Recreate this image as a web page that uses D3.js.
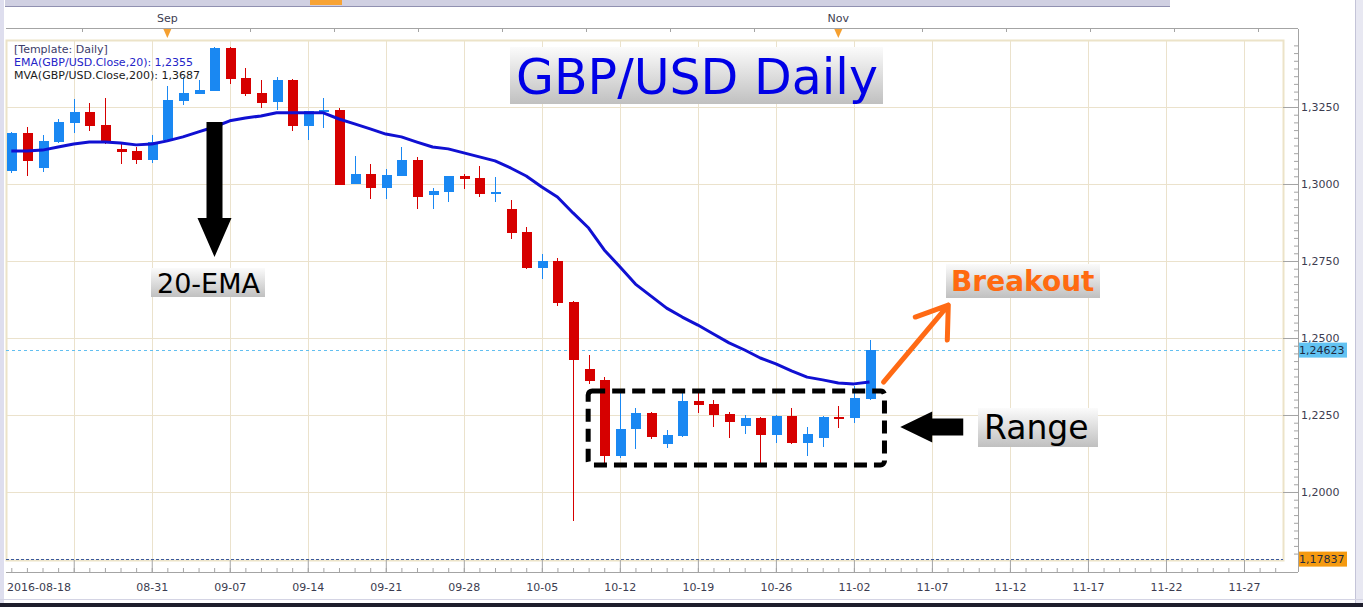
<!DOCTYPE html>
<html>
<head>
<meta charset="utf-8">
<script src="https://cdn.jsdelivr.net/npm/d3@7"></script>
<style>
  body { margin:0; background:#fff; }
  svg { display:block; font-family:'DejaVu Sans', Verdana, sans-serif; }
  .axis text { font-size:11px; fill:#3c3c50; font-family:'DejaVu Sans', Verdana, sans-serif; }
</style>
</head>
<body>
<svg id="chart" width="1363" height="607"></svg>
<script>
/*jshint esversion: 6 */

// daily candles GBP/USD
const dates = [
  '2016-08-18','2016-08-19','2016-08-22','2016-08-23','2016-08-24','2016-08-25','2016-08-26','2016-08-29','2016-08-30','2016-08-31',
  '2016-09-01','2016-09-02','2016-09-05','2016-09-06','2016-09-07','2016-09-08','2016-09-09','2016-09-12','2016-09-13','2016-09-14',
  '2016-09-15','2016-09-16','2016-09-19','2016-09-20','2016-09-21','2016-09-22','2016-09-23','2016-09-26','2016-09-27','2016-09-28',
  '2016-09-29','2016-09-30','2016-10-03','2016-10-04','2016-10-05','2016-10-06','2016-10-07','2016-10-10','2016-10-11','2016-10-12',
  '2016-10-13','2016-10-14','2016-10-17','2016-10-18','2016-10-19','2016-10-20','2016-10-21','2016-10-24','2016-10-25','2016-10-26',
  '2016-10-27','2016-10-28','2016-10-31','2016-11-01','2016-11-02','2016-11-03'
];
const open = [
  1.3042,1.3166,1.3052,1.3136,1.3198,1.3234,1.3192,1.3114,1.3107,1.3078,
  1.3143,1.3269,1.3292,1.3302,1.3442,1.3344,1.3295,1.3266,1.3338,1.3188,
  1.3234,1.3240,1.3000,1.3032,1.2987,1.3026,1.3078,1.2964,1.2974,1.3026,
  1.3019,1.2971,1.2919,1.2844,1.2727,1.2750,1.2617,1.2399,1.2364,1.2117,
  1.2205,1.2256,1.2156,1.2182,1.2295,1.2286,1.2253,1.2214,1.2240,1.2185,
  1.2247,1.2159,1.2175,1.2243,1.2240,1.2302
];
const high = [
  1.3169,1.3185,1.3159,1.3211,1.3276,1.3263,1.3279,1.3136,1.3120,1.3159,
  1.3318,1.3347,1.3338,1.3445,1.3445,1.3377,1.3338,1.3347,1.3341,1.3237,
  1.3279,1.3247,1.3091,1.3065,1.3049,1.3120,1.3088,1.2987,1.3026,1.3032,
  1.3058,1.3023,1.2948,1.2860,1.2773,1.2760,1.2620,1.2445,1.2373,1.2325,
  1.2273,1.2260,1.2201,1.2325,1.2331,1.2299,1.2260,1.2250,1.2243,1.2250,
  1.2273,1.2211,1.2247,1.2279,1.2344,1.2494
];
const low = [
  1.3036,1.3026,1.3039,1.3133,1.3166,1.3172,1.3130,1.3065,1.3065,1.3068,
  1.3140,1.3256,1.3292,1.3302,1.3325,1.3286,1.3247,1.3240,1.3172,1.3143,
  1.3182,1.2997,1.3000,1.2951,1.2951,1.3026,1.2919,1.2919,1.2942,1.2984,
  1.2958,1.2942,1.2821,1.2724,1.2692,1.2604,1.1906,1.2351,1.2094,1.2110,
  1.2140,1.2172,1.2143,1.2179,1.2256,1.2211,1.2175,1.2188,1.2081,1.2159,
  1.2156,1.2117,1.2146,1.2208,1.2224,1.2299
];
const close = [
  1.3166,1.3075,1.3140,1.3201,1.3234,1.3188,1.3140,1.3104,1.3078,1.3136,
  1.3273,1.3295,1.3305,1.3442,1.3341,1.3292,1.3263,1.3338,1.3188,1.3237,
  1.3240,1.2997,1.3032,1.2987,1.3029,1.3078,1.2958,1.2977,1.3026,1.3016,
  1.2968,1.2974,1.2841,1.2727,1.2750,1.2614,1.2429,1.2360,1.2117,1.2205,
  1.2256,1.2179,1.2185,1.2295,1.2282,1.2250,1.2227,1.2240,1.2185,1.2247,
  1.2159,1.2188,1.2243,1.2240,1.2305,1.24623
];
const ema20 = [
  1.3107,1.3107,1.3110,1.3120,1.3130,1.3136,1.3136,1.3133,1.3127,1.3130,
  1.3140,1.3153,1.3169,1.3185,1.3205,1.3214,1.3221,1.3231,1.3231,1.3231,
  1.3231,1.3211,1.3195,1.3179,1.3162,1.3153,1.3136,1.3120,1.3114,1.3101,
  1.3088,1.3075,1.3052,1.3026,1.2990,1.2958,1.2906,1.2857,1.2786,1.2731,
  1.2675,1.2636,1.2597,1.2568,1.2542,1.2513,1.2484,1.2461,1.2435,1.2416,
  1.2393,1.2373,1.2364,1.2354,1.2351,1.2357
];

// axis ticks
const xTickDates = ['2016-08-24','2016-08-31','2016-09-07','2016-09-14','2016-09-21','2016-09-28','2016-10-05',
  '2016-10-12','2016-10-19','2016-10-26','2016-11-02','2016-11-07','2016-11-12','2016-11-17','2016-11-22','2016-11-27'];
const xTickLabels = ['','08-31','09-07','09-14','09-21','09-28','10-05',
  '10-12','10-19','10-26','11-02','11-07','11-12','11-17','11-22','11-27'];
const firstLabel = '2016-08-18';
const yTicks = [1.2000, 1.2250, 1.2500, 1.2750, 1.3000, 1.3250];
const navMonths = ['Sep', 'Nov'];
const navMonthDates = ['2016-09-01', '2016-11-01'];
const lastPrice = 1.24623;
const lowMark = 1.17837;
const legendLines = ['[Template: Daily]', 'EMA(GBP/USD.Close,20): 1,2355', 'MVA(GBP/USD.Close,200): 1,3687'];

const plot = {left:6, right:1283, top:40, bottom:560};
const axisX = 1298, axisY = 572, navY = 28.5;
const colUp = '#1a88f2', colDown = '#d60000';

const parseDate = d3.timeParse('%Y-%m-%d');
const lastDate = parseDate(dates[dates.length - 1]);

// trading days are slots; after the last candle every calendar day is a slot
function slotOf(s) {
  let i = dates.indexOf(s);
  if (i !== -1) {return i;}
  return dates.length - 1 + d3.timeDay.count(lastDate, parseDate(s));
}

const x = d3.scaleLinear().domain([-0.34, 81.5]).range([plot.left, plot.right]);
const y = d3.scaleLinear().domain([1.17792, 1.34675]).range([plot.bottom, plot.top]);
const fmt = v => d3.format('.4f')(v).replace('.', ',');

const svg = d3.select('#chart');

// gradient for annotation boxes
let grad = svg.append('defs').append('linearGradient')
  .attr('id', 'lblGrad')
  .attr('x1', 0).attr('y1', 0).attr('x2', 0).attr('y2', 1);
grad.append('stop').attr('offset', '0%').attr('stop-color', '#fbfbfb');
grad.append('stop').attr('offset', '100%').attr('stop-color', '#c0c0c0');

// window frame bits
svg.append('rect').attr('x', 0).attr('y', 0).attr('width', 4).attr('height', 607).attr('fill', '#dedeee');
svg.append('rect').attr('x', 1355).attr('y', 0).attr('width', 8).attr('height', 607).attr('fill', '#e8e8f2');
svg.append('line').attr('x1', 1355.5).attr('x2', 1355.5).attr('y1', 0).attr('y2', 607).attr('stroke', '#c4c4d8');
svg.append('rect').attr('x', 5).attr('y', 0).attr('width', 1165).attr('height', 6).attr('fill', '#d0d0e2');
svg.append('line').attr('x1', 5).attr('x2', 1170).attr('y1', 6.5).attr('y2', 6.5).attr('stroke', '#9090b0');
svg.append('rect').attr('x', 310).attr('y', 0).attr('width', 32).attr('height', 5).attr('fill', '#f7a335');
svg.append('line').attr('x1', 0).attr('x2', 1363).attr('y1', 599.5).attr('y2', 599.5).attr('stroke', '#d4d4e4');
svg.append('rect').attr('x', 0).attr('y', 603).attr('width', 1363).attr('height', 4).attr('fill', '#1e1e2c');

// gridlines
let grid = svg.append('g').attr('shape-rendering', 'crispEdges');
grid.selectAll('.vgrid').data(xTickDates).join('line')
  .attr('x1', d => Math.round(x(slotOf(d))) + 0.5)
  .attr('x2', d => Math.round(x(slotOf(d))) + 0.5)
  .attr('y1', plot.top).attr('y2', plot.bottom)
  .attr('stroke', '#ebe2cc');
grid.selectAll('.hgrid').data(yTicks).join('line')
  .attr('x1', plot.left).attr('x2', plot.right)
  .attr('y1', d => Math.round(y(d)) + 0.5)
  .attr('y2', d => Math.round(y(d)) + 0.5)
  .attr('stroke', '#ebe2cc');

// plot frame
svg.append('rect')
  .attr('x', plot.left + 0.5).attr('y', plot.top + 0.5)
  .attr('width', plot.right - plot.left).attr('height', plot.bottom - plot.top)
  .attr('fill', 'none').attr('stroke', '#ece3c8').attr('stroke-width', 2);

// axis lines
let lines = svg.append('g').attr('stroke', '#a4a4a4').attr('shape-rendering', 'crispEdges');
lines.append('line').attr('x1', plot.left).attr('x2', axisX).attr('y1', navY).attr('y2', navY);
lines.append('line').attr('x1', axisX + 0.5).attr('x2', axisX + 0.5).attr('y1', navY).attr('y2', axisY);
lines.append('line').attr('x1', plot.left).attr('x2', axisX).attr('y1', axisY + 0.5).attr('y2', axisY + 0.5);

// top navigator ticks and month markers
lines.selectAll('.navtick').data(d3.range(82, 1290, 84)).join('line')
  .attr('x1', d => d + 0.5).attr('x2', d => d + 0.5)
  .attr('y1', navY).attr('y2', navY + 3);
let nav = svg.append('g');
nav.selectAll('text').data(navMonths).join('text')
  .attr('x', (d, i) => x(slotOf(navMonthDates[i])))
  .attr('y', 22)
  .attr('text-anchor', 'middle')
  .style('font-size', '11px')
  .attr('fill', '#3c3c50')
  .text(d => d);
nav.selectAll('path').data(navMonthDates).join('path')
  .attr('d', d => {
    let cx = x(slotOf(d));
    return 'M' + (cx - 4) + ',29L' + (cx + 4) + ',29L' + cx + ',38Z';
  })
  .attr('fill', '#f5a030');

// bottom axis: labels, major and minor ticks
let xAxis = svg.append('g')
  .attr('class', 'axis axis-x')
  .attr('transform', 'translate(0,' + axisY + ')')
  .call(d3.axisBottom(x)
    .tickValues(xTickDates.map(slotOf))
    .tickFormat((d, i) => xTickLabels[i])
    .tickSize(-12)
    .tickPadding(11));
xAxis.select('.domain').remove();
xAxis.selectAll('line').attr('stroke', '#a4a4a4');
xAxis.append('text')
  .attr('x', plot.left + 1)
  .attr('y', 19)
  .attr('text-anchor', 'start')
  .text(firstLabel);

let xMinor = svg.append('g')
  .attr('transform', 'translate(0,' + axisY + ')')
  .call(d3.axisBottom(x).tickValues(d3.range(0, 82)).tickFormat('').tickSize(-4));
xMinor.select('.domain').remove();
xMinor.selectAll('line').attr('stroke', '#a4a4a4');

// right axis
let yAxis = svg.append('g')
  .attr('class', 'axis axis-y')
  .attr('transform', 'translate(' + axisX + ',0)')
  .call(d3.axisRight(y)
    .tickValues(yTicks)
    .tickFormat(fmt)
    .tickSize(-15)
    .tickPadding(3));
yAxis.select('.domain').remove();
yAxis.selectAll('line').attr('stroke', '#a4a4a4');

let yMinor = svg.append('g')
  .attr('transform', 'translate(' + axisX + ',0)')
  .call(d3.axisRight(y)
    .tickValues(d3.range(1180, 1347, 2.5).map(v => v / 1000))
    .tickFormat('')
    .tickSize(-4));
yMinor.select('.domain').remove();
yMinor.selectAll('line').attr('stroke', '#a4a4a4');

// price marker lines
svg.append('line')
  .attr('x1', plot.left).attr('x2', plot.right)
  .attr('y1', Math.round(y(lastPrice)) + 0.5).attr('y2', Math.round(y(lastPrice)) + 0.5)
  .attr('stroke', '#62bff0').attr('stroke-dasharray', '3,3');
svg.append('line')
  .attr('x1', plot.left).attr('x2', plot.right)
  .attr('y1', Math.round(y(lowMark)) + 0.5).attr('y2', Math.round(y(lowMark)) + 0.5)
  .attr('stroke', '#3b5a9c').attr('stroke-dasharray', '3,2');

// price marker labels on axis
[[lastPrice, '#62c3f2'], [lowMark, '#f59a10']].forEach(function(m) {
  svg.append('rect')
    .attr('x', axisX + 1).attr('y', y(m[0]) - 7)
    .attr('width', 48).attr('height', 15)
    .attr('fill', m[1]);
  svg.append('text')
    .attr('x', axisX + 1).attr('y', y(m[0]) + 4.5)
    .style('font-size', '11px')
    .attr('fill', '#1e2a40')
    .text(d3.format('.5f')(m[0]).replace('.', ','));
});

// candles
let candles = svg.append('g').attr('shape-rendering', 'crispEdges');
candles.selectAll('.wick').data(dates).join('line')
  .attr('x1', (d, i) => Math.round(x(i)) + 0.5)
  .attr('x2', (d, i) => Math.round(x(i)) + 0.5)
  .attr('y1', (d, i) => y(high[i]))
  .attr('y2', (d, i) => y(low[i]))
  .attr('stroke', (d, i) => close[i] >= open[i] ? colUp : colDown);
candles.selectAll('.body').data(dates).join('rect')
  .attr('x', (d, i) => Math.round(x(i)) - 4)
  .attr('y', (d, i) => y(Math.max(open[i], close[i])))
  .attr('width', 10)
  .attr('height', (d, i) => Math.max(2, Math.abs(y(open[i]) - y(close[i]))))
  .attr('fill', (d, i) => close[i] >= open[i] ? colUp : colDown);

// 20 EMA line
let emaLine = d3.line()
  .x((d, i) => x(i))
  .y(d => y(d));
svg.append('path')
  .datum(ema20)
  .attr('d', emaLine)
  .attr('fill', 'none')
  .attr('stroke', '#1010d2')
  .attr('stroke-width', 3)
  .attr('stroke-linejoin', 'round');

// indicator legend
svg.append('g').selectAll('text').data(legendLines).join('text')
  .attr('x', 14)
  .attr('y', (d, i) => 53 + i * 13)
  .style('font-size', '11px')
  .attr('fill', (d, i) => ['#3c3c6a', '#2424c8', '#1a1a1a'][i])
  .text(d => d);

// title box
svg.append('rect')
  .attr('x', 510).attr('y', 47).attr('width', 373).attr('height', 57)
  .attr('fill', 'url(#lblGrad)');
svg.append('text')
  .attr('x', 516).attr('y', 94)
  .style('font-size', '49px')
  .attr('fill', '#0000e6')
  .text('GBP/USD Daily');

// 20-EMA arrow and label
const emaArrow = {slot: 13, top: 1.3201, tip: 1.2763};
let ax = Math.round(x(emaArrow.slot)) + 0.5, aTop = y(emaArrow.top), aTip = y(emaArrow.tip);
svg.append('path')
  .attr('d', 'M' + (ax - 8) + ',' + aTop + 'L' + (ax + 8) + ',' + aTop + 'L' + (ax + 8) + ',' + (aTip - 39) +
    'L' + (ax + 17) + ',' + (aTip - 39) + 'L' + ax + ',' + aTip + 'L' + (ax - 17) + ',' + (aTip - 39) +
    'L' + (ax - 8) + ',' + (aTip - 39) + 'Z')
  .attr('fill', '#000');
svg.append('rect')
  .attr('x', 151).attr('y', 268).attr('width', 114).attr('height', 29)
  .attr('fill', 'url(#lblGrad)');
svg.append('text')
  .attr('x', 157).attr('y', 293)
  .style('font-size', '27px')
  .attr('fill', '#000')
  .text('20-EMA');

// range box
const rangeBox = {from: 36.97, to: 55.96, top: 1.2328, bottom: 1.2088};
svg.append('rect')
  .attr('x', x(rangeBox.from)).attr('y', y(rangeBox.top))
  .attr('width', x(rangeBox.to) - x(rangeBox.from))
  .attr('height', y(rangeBox.bottom) - y(rangeBox.top))
  .attr('rx', 4)
  .attr('fill', 'none')
  .attr('stroke', '#000')
  .attr('stroke-width', 5)
  .attr('stroke-dasharray', '13,7');

// range arrow and label
const rangeArrow = {slot: 56.97, value: 1.2211};
let rx = x(rangeArrow.slot), ry = y(rangeArrow.value);
svg.append('path')
  .attr('d', 'M' + rx + ',' + ry + 'L' + (rx + 32) + ',' + (ry - 15.5) + 'L' + (rx + 32) + ',' + (ry - 8.5) +
    'L' + (rx + 63) + ',' + (ry - 8.5) + 'L' + (rx + 63) + ',' + (ry + 8.5) + 'L' + (rx + 32) + ',' + (ry + 8.5) +
    'L' + (rx + 32) + ',' + (ry + 15.5) + 'Z')
  .attr('fill', '#000');
svg.append('rect')
  .attr('x', 978).attr('y', 408).attr('width', 120).attr('height', 39)
  .attr('fill', 'url(#lblGrad)');
svg.append('text')
  .attr('x', 984).attr('y', 439)
  .style('font-size', '33px')
  .attr('fill', '#000')
  .text('Range');

// breakout arrow and label
const breakArrow = {fromSlot: 55.9, fromValue: 1.2357, toSlot: 60.05, toValue: 1.2607};
let bx0 = x(breakArrow.fromSlot), by0 = y(breakArrow.fromValue);
let bx1 = x(breakArrow.toSlot), by1 = y(breakArrow.toValue);
svg.append('path')
  .attr('d', 'M' + bx0 + ',' + by0 + 'L' + bx1 + ',' + by1 +
    'M' + (bx1 - 33) + ',' + (by1 + 12) + 'L' + bx1 + ',' + by1 + 'L' + (bx1 - 1) + ',' + (by1 + 35))
  .attr('fill', 'none')
  .attr('stroke', '#ff6a14')
  .attr('stroke-width', 5)
  .attr('stroke-linecap', 'round')
  .attr('stroke-linejoin', 'round');
svg.append('rect')
  .attr('x', 946).attr('y', 264).attr('width', 154).attr('height', 34)
  .attr('fill', 'url(#lblGrad)');
svg.append('text')
  .attr('x', 951).attr('y', 291)
  .style('font-size', '28px')
  .style('font-weight', 'bold')
  .attr('fill', '#ff6a10')
  .text('Breakout');
</script>
</body>
</html>
